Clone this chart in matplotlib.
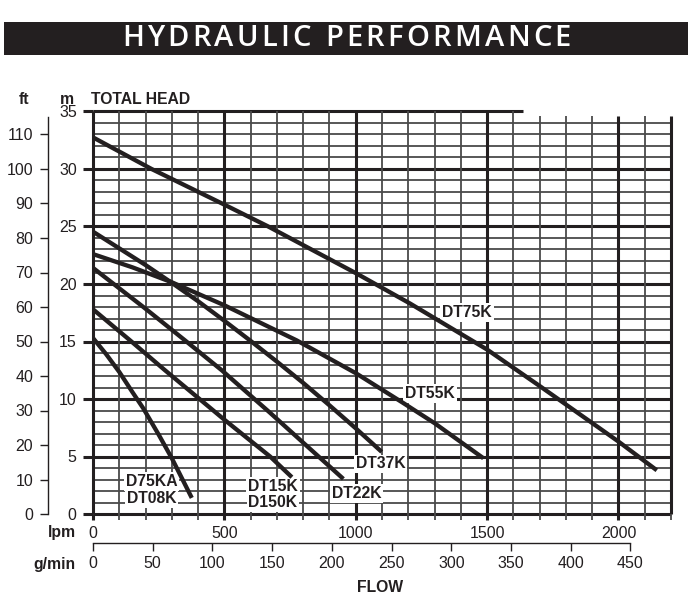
import numpy as np
import matplotlib
matplotlib.use('Agg')
import matplotlib.pyplot as plt
from matplotlib.patches import Rectangle
from matplotlib.font_manager import FontProperties

# pump curves: flow in lpm, total head in m
dt75k_flow = [0, 223, 500, 667, 1004, 1207, 1500, 1702, 2000, 2146]
dt75k_head = [32.75, 30.0, 26.9, 25.0, 20.9, 18.3, 14.3, 11.1, 6.3, 3.8]

dt55k_flow = [0, 150, 300, 500, 775, 1000, 1181, 1300, 1486]
dt55k_head = [22.6, 21.45, 20.15, 18.15, 15.1, 12.25, 9.65, 7.9, 4.85]

dt37k_flow = [0, 100, 200, 300, 400, 500, 600, 700, 800, 900, 1000, 1099]
dt37k_head = [24.55, 23.1, 21.65, 20.1, 18.5, 16.8, 15.05, 13.25, 11.4, 9.45, 7.45, 5.4]

dt22k_flow = [0, 200, 350, 490, 674, 953]
dt22k_head = [21.4, 17.85, 15.1, 12.5, 8.8, 3.05]

dt15k_flow = [0, 141, 274, 500, 674, 757]
dt15k_head = [17.8, 15.1, 12.5, 8.2, 5.0, 3.2]

dt08k_flow = [0, 50, 100, 150, 191, 250, 300, 376]
dt08k_head = [15.3, 13.9, 12.35, 10.6, 9.2, 6.9, 4.85, 1.4]

# curve labels (text, flow, head of the label centre)
label_text = ['DT75K', 'DT55K', 'DT37K', 'DT22K', 'DT15K', 'D150K', 'D75KA', 'DT08K']
label_flow = [1424, 1283, 1094, 1004, 685, 685, 223, 223]
label_head = [17.5, 10.5, 4.35, 1.8, 2.43, 0.98, 2.8, 1.37]

lpm_ticks = [0, 500, 1000, 1500, 2000]
gpm_ticks = [0, 50, 100, 150, 200, 250, 300, 350, 400, 450]
m_ticks = [0, 5, 10, 15, 20, 25, 30, 35]
ft_ticks = [0, 10, 20, 30, 40, 50, 60, 70, 80, 90, 100, 110]

FT_TO_M = 0.3       # scale used on the printed chart
LPM_PER_GPM = 4.546

W, H = 693, 609
plt.rcParams['font.family'] = ['Liberation Sans', 'DejaVu Sans']
INK = '#231f20'
GRID = '#4a4a4a'


def fx(px):
    return px / W


def fy(py):
    return 1 - py / H


fig = plt.figure(figsize=(W / 100, H / 100), dpi=100)
fig.patch.set_facecolor('white')

# title bar
fig.add_artist(Rectangle((fx(4), fy(55)), fx(684), 33 / H, transform=fig.transFigure,
                         facecolor=INK, edgecolor='none'))

ax = fig.add_axes([fx(93), fy(514), fx(671) - fx(93), 402.5 / H])
ax.set_xlim(0, 2200)
ax.set_ylim(0, 35)
for s in ax.spines.values():
    s.set_visible(False)

# grid
top_cut = 1636
for m in range(0, 36):
    major = m % 5 == 0
    right = top_cut if m == 35 else 2200
    ax.hlines(m, 0, right, color=INK if major else GRID, lw=2.2 if major else 1.3,
              zorder=1, clip_on=False)
for q in range(0, 2201, 100):
    major = q % 500 == 0 or q == 2200
    top = 35 if q <= 1600 else 34.6
    ax.vlines(q, 0, top, color=INK if major else GRID, lw=2.2 if major else 1.3,
              zorder=1, clip_on=False)

# pump curves
curves = [(dt75k_flow, dt75k_head), (dt55k_flow, dt55k_head), (dt37k_flow, dt37k_head),
          (dt22k_flow, dt22k_head), (dt15k_flow, dt15k_head), (dt08k_flow, dt08k_head)]
for q, h in curves:
    ax.plot(q, h, color=INK, lw=3.1, solid_capstyle='butt', solid_joinstyle='round', zorder=4)

for t, q, h in zip(label_text, label_flow, label_head):
    ax.text(q, h, t, ha='center', va='center', fontsize=11.3, fontweight='bold', color=INK,
            bbox=dict(boxstyle='square,pad=0.12', fc='white', ec='none'), zorder=3)

# lpm axis (bottom) and m axis (left)
ax.set_xticks(lpm_ticks)
ax.set_xticks(np.arange(0, 2201, 100), minor=True)
ax.tick_params(axis='x', which='major', length=4.3, width=2.2, color=INK, pad=4,
               labelsize=11.5, labelcolor=INK)
ax.tick_params(axis='x', which='minor', length=4.3, width=1.3, color=GRID)
ax.set_yticks(m_ticks)
ax.tick_params(axis='y', which='major', length=7.2, width=2.2, color=INK, pad=4.5,
               labelsize=11.5, labelcolor=INK)

# ft axis
sec_y = ax.secondary_yaxis((48 - 93) / 578, functions=(lambda m: m / FT_TO_M,
                                                       lambda f: f * FT_TO_M))
sec_y.set_yticks(ft_ticks)
sec_y.spines['left'].set_bounds(0, 115)
sec_y.spines['left'].set_linewidth(1.0)
sec_y.spines['left'].set_color(INK)
sec_y.tick_params(length=5.8, width=1.0, color=INK, pad=5, labelsize=11.5, labelcolor=INK)

# g/min axis
sec_x = ax.secondary_xaxis((514 - 543) / 402.5, functions=(lambda q: q / LPM_PER_GPM,
                                                          lambda g: g * LPM_PER_GPM))
sec_x.set_xticks(gpm_ticks)
sec_x.spines['bottom'].set_bounds(0, 450)
sec_x.spines['bottom'].set_linewidth(1.0)
sec_x.spines['bottom'].set_color(INK)
sec_x.tick_params(length=5.5, width=1.0, color=INK, pad=4, labelsize=11.5, labelcolor=INK)

# axis titles
bold = dict(fontsize=11.3, fontweight='bold', color=INK, va='center')
fig.text(fx(24), fy(99), 'ft', ha='center', **bold)
fig.text(fx(67), fy(99), 'm', ha='center', **bold)
fig.text(fx(91), fy(99), 'TOTAL HEAD', ha='left', **bold)
fig.text(fx(76), fy(532), 'lpm', ha='right', **bold)
fig.text(fx(76), fy(565), 'g/min', ha='right', **bold)
fig.text(fx(380), fy(587), 'FLOW', ha='center', **bold)

# letter-spaced title
title = 'HYDRAULIC PERFORMANCE'
fp = FontProperties(family='Open Sans', size=21, weight='semibold')
fig.canvas.draw()
rend = fig.canvas.get_renderer()
widths = []
for ch in title:
    if ch == ' ':
        widths.append(21 * 0.26 * fig.dpi / 72)
    else:
        widths.append(rend.get_text_width_height_descent(ch, fp, ismath=False)[0])
gap = (571 - 122 - sum(widths)) / (len(title) - 1)
x = 122
for ch, w in zip(title, widths):
    fig.text(fx(x), fy(38.5), ch, color='white', fontproperties=fp, ha='left', va='center')
    x += w + gap

fig.savefig('out.png', dpi=100)
